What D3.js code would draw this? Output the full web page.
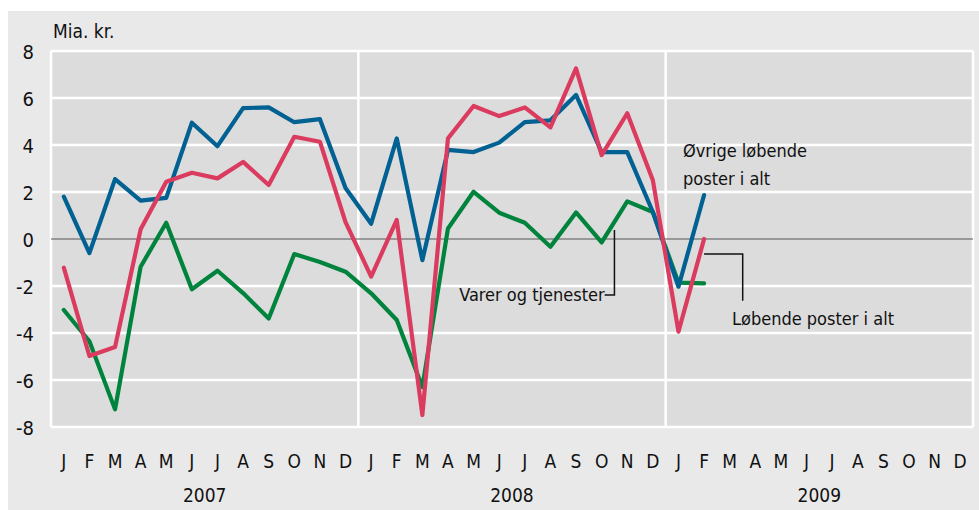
<!DOCTYPE html>
<html><head><meta charset="utf-8">
<script src="https://cdn.jsdelivr.net/npm/d3@7"></script>
<style>
html,body{margin:0;padding:0;background:#fff;}
text{font-family:"Liberation Sans Narrow","DejaVu Sans Condensed","Open Sans",sans-serif;fill:#111;}
</style></head><body>
<script>
const years = ["2007","2008","2009"];
const monthLetters = ["J","F","M","A","M","J","J","A","S","O","N","D"];
const yTicks = [8,6,4,2,0,-2,-4,-6,-8];
// Øvrige løbende poster i alt (blue)
const ovrige = [1.8,-0.6,2.55,1.63,1.75,4.95,3.95,5.57,5.6,4.97,5.1,2.17,
                0.65,4.28,-0.9,3.79,3.7,4.1,4.97,5.05,6.13,3.7,3.7,1.15,
                -2.03,1.87];
// Løbende poster i alt (red)
const lobende = [-1.22,-4.98,-4.6,0.41,2.44,2.82,2.58,3.28,2.3,4.35,4.14,0.72,
                 -1.6,0.81,-7.49,4.28,5.66,5.23,5.6,4.75,7.26,3.57,5.35,2.5,
                 -3.94,0.0];
// Varer og tjenester (green)
const varer = [-3.02,-4.35,-7.25,-1.18,0.69,-2.14,-1.35,-2.3,-3.38,-0.64,-0.98,-1.39,
               -2.31,-3.45,-6.3,0.45,2.01,1.12,0.69,-0.33,1.13,-0.14,1.6,1.15,
               -1.86,-1.89];

const W=979,H=510;
const svg=d3.select("body").append("svg").attr("width",W).attr("height",H);
svg.append("rect").attr("x",8).attr("y",11).attr("width",W-8).attr("height",H-11).attr("fill","#e9e9e9");

const L=51,R=973,T=51,B=427;
const nMonths=years.length*12;
const x=d3.scaleLinear().domain([0,nMonths]).range([L,R]);
const xm=i=>x(i+0.5);
const y=d3.scaleLinear().domain([-8,8]).range([B,T]);

// plot background
svg.append("rect").attr("x",L).attr("y",T).attr("width",R-L).attr("height",B-T).attr("fill","#dcdcdc");
// horizontal gridlines (white)
svg.append("g").selectAll("line").data(yTicks.filter(d=>d!==0)).join("line")
  .attr("x1",L).attr("x2",R).attr("y1",d=>y(d)).attr("y2",d=>y(d))
  .attr("stroke","#fff").attr("stroke-width",2.5);
// vertical borders/year separators
svg.append("g").selectAll("line").data(d3.range(0,years.length+1)).join("line")
  .attr("x1",d=>x(d*12)).attr("x2",d=>x(d*12)).attr("y1",T).attr("y2",B)
  .attr("stroke","#fff").attr("stroke-width",2.5);
// zero line
svg.append("line").attr("x1",L).attr("x2",R).attr("y1",y(0)).attr("y2",y(0))
  .attr("stroke","#555").attr("stroke-width",1.2);

// y axis labels
const yAxis=d3.axisLeft(y).tickValues(yTicks).tickSize(0).tickPadding(0).tickFormat(d=>String(d));
const yg=svg.append("g").attr("transform",`translate(${L-17},0)`).call(yAxis);
yg.select(".domain").remove();
yg.selectAll("text").attr("font-size",20).attr("dy","0.36em").style("font-family",null);

svg.append("text").attr("x",53).attr("y",38).attr("font-size",19).text("Mia. kr.");

// month labels
const months=d3.range(nMonths);
svg.append("g").selectAll("text").data(months).join("text")
  .attr("x",d=>xm(d)).attr("y",468).attr("text-anchor","middle").attr("font-size",19)
  .text(d=>monthLetters[d%12]);
svg.append("g").selectAll("text").data(years).join("text")
  .attr("x",(d,i)=>x(i*12+6)).attr("y",502).attr("text-anchor","middle").attr("font-size",19)
  .text(d=>d);

const line=d3.line().x((d,i)=>xm(i)).y(d=>y(d));
const series=[{v:varer,c:"#00843d"},{v:ovrige,c:"#006192"},{v:lobende,c:"#da3b5e"}];
svg.append("g").selectAll("path").data(series).join("path")
  .attr("d",d=>line(d.v)).attr("fill","none").attr("stroke",d=>d.c)
  .attr("stroke-width",4.2).attr("stroke-linejoin","round").attr("stroke-linecap","round");

// annotations
const ann=svg.append("g");
ann.append("path").attr("d",`M${xm(21)+12.8},${y(0.38)}V${y(-2.38)}H${xm(21)+3}`)
  .attr("fill","none").attr("stroke","#111").attr("stroke-width",1.5);
ann.append("text").attr("x",xm(21)+3).attr("y",y(-2.38)+6).attr("text-anchor","end")
  .attr("font-size",18).text("Varer og tjenester");
ann.append("path").attr("d",`M${xm(25)},${y(-0.64)}H${xm(26)+13}V${y(-2.63)}`)
  .attr("fill","none").attr("stroke","#111").attr("stroke-width",1.5);
ann.append("text").attr("x",732).attr("y",325).attr("font-size",18).text("Løbende poster i alt");
ann.append("text").attr("x",683).attr("y",157).attr("font-size",18).text("Øvrige løbende");
ann.append("text").attr("x",683).attr("y",185).attr("font-size",18).text("poster i alt");
</script></body></html>
